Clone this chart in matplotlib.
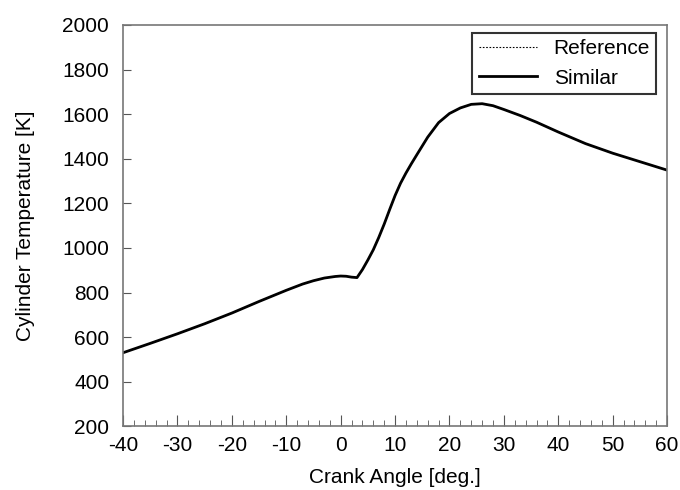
import numpy as np
import matplotlib
matplotlib.use('Agg')
import matplotlib.pyplot as plt
from matplotlib.ticker import MultipleLocator

# crank angle [deg] and cylinder temperature [K]
crank_angle = [-40, -35, -30, -25, -20, -15, -10, -7, -5, -3, -1, 0, 1, 2, 3,
               4, 5, 6, 7, 8, 9, 10, 11, 12, 13, 14, 16, 18, 20, 22, 24, 26,
               28, 30, 33, 36, 40, 45, 50, 55, 60]
temp_reference = [530, 572, 615, 660, 708, 760, 810, 838, 853, 865, 872, 874,
                  873, 869, 867, 903, 946, 992, 1047, 1107, 1172, 1235, 1290,
                  1336, 1378, 1418, 1497, 1562, 1603, 1628, 1644, 1647, 1638,
                  1621, 1594, 1564, 1520, 1468, 1425, 1387, 1349]
temp_similar = list(temp_reference)

plt.rcParams['font.family'] = ['Liberation Sans', 'DejaVu Sans']
plt.rcParams['axes.unicode_minus'] = False

fig, ax = plt.subplots(figsize=(6.8, 4.9), dpi=100)
fig.subplots_adjust(left=0.181, right=0.981, top=0.949, bottom=0.130)

ax.plot(crank_angle, temp_reference, color='black', lw=0.8, ls=(0, (1.5, 1.5)),
        label='Reference')
ax.plot(crank_angle, temp_similar, color='black', lw=2.0, label='Similar')

ax.set_xlim(-40, 60)
ax.set_ylim(200, 2000)
ax.xaxis.set_major_locator(MultipleLocator(10))
ax.xaxis.set_minor_locator(MultipleLocator(2))
ax.yaxis.set_major_locator(MultipleLocator(200))
ax.tick_params(axis='both', which='both', direction='in', color='#555555',
               labelsize=15, top=False, right=False)
ax.tick_params(axis='x', which='major', length=8, pad=7)
ax.tick_params(axis='x', which='minor', length=4)
ax.tick_params(axis='y', which='major', length=6, pad=10)
for sp in ax.spines.values():
    sp.set_color('#777777')
    sp.set_linewidth(1.2)

ax.set_xlabel('Crank Angle [deg.]', fontsize=15, labelpad=9)
ax.set_ylabel('Cylinder Temperature [K]', fontsize=15, labelpad=20)

leg = ax.legend(loc='upper right', fontsize=15, frameon=True, fancybox=False,
                edgecolor='black', handlelength=2.8, borderpad=0.3,
                labelspacing=0.5, handletextpad=0.8, borderaxespad=0,
                bbox_to_anchor=(0.98, 0.98))
leg.get_frame().set_linewidth(1.5)

fig.savefig('out.png', dpi=100)
